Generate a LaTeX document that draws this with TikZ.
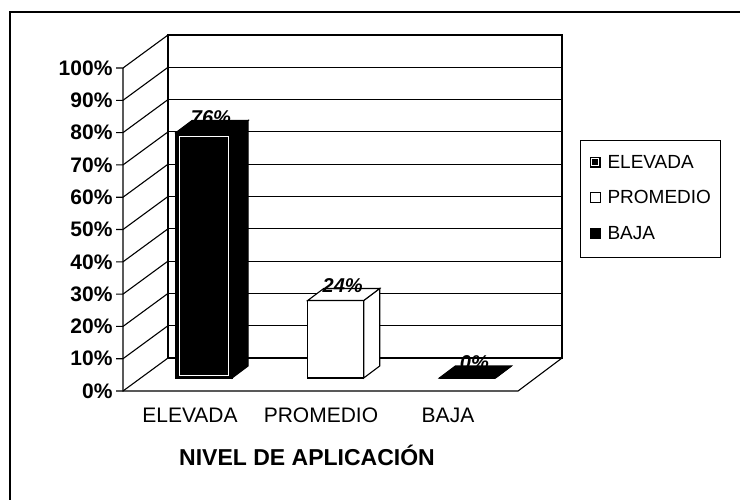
\documentclass[tikz,border=0pt]{standalone}
\usepackage{fontspec}
\setmainfont{Liberation Sans}

% one 3-D column: #1 left x of front face, #2 height, #3 fill, #4 label, #5 name
\newcommand{\column}[5]{%
  \fill[#3] (#1,378) rectangle ({#1+56},{378-#2});
  \draw (#1,378) rectangle ({#1+56},{378-#2});
  \filldraw[fill=#3] ({#1+56},378) -- ({#1+72},366) -- ({#1+72},{366-#2}) -- ({#1+56},{378-#2}) -- cycle;
  \filldraw[fill=#3] (#1,{378-#2}) -- ({#1+16},{366-#2}) -- ({#1+72},{366-#2}) -- ({#1+56},{378-#2}) -- cycle;
  \node[val] (#5) at ({#1+35},{363-#2}) {#4};
}

\begin{document}
\begin{tikzpicture}[x=1pt,y=-1pt,line width=1.1pt,
    tick/.style={font=\fontsize{21}{21}\selectfont\bfseries,anchor=east,inner sep=0pt},
    cat/.style={font=\fontsize{21}{21}\selectfont},
    val/.style={font=\fontsize{20}{20}\selectfont\bfseries\itshape,inner sep=0pt},
    leg/.style={font=\fontsize{19}{19}\selectfont,anchor=west,inner sep=0pt},
    swatch/.style={draw,line width=0.9pt,minimum size=10pt,inner sep=0pt}]
  \clip (0,0) rectangle (740,499);
  \draw[line width=1.6pt] (10,12) rectangle (760,520);

  \draw (168,35) rectangle (562,358);
  \foreach \i in {1,...,9}
    \draw (168,{358-32.3*\i}) -- (562,{358-32.3*\i});
  \foreach \i in {0,...,10}
    \draw (116,{391-32.3*\i}) -- (123,{391-32.3*\i}) -- (168,{358-32.3*\i});
  \draw (123,68) -- (123,391) -- (518,391) -- (562,358);

  \foreach \i [evaluate=\i as \p using int(10*\i)] in {0,...,10}
    \node[tick] (tick\i) at (113,{391-32.3*\i}) {\p\%};

  \column{176}{245.5}{black}{76\%}{valelev}
  \draw[white,line width=0.6pt] (179.5,375) rectangle (228.5,{381.5-245.5});
  \column{307.7}{77.5}{white}{24\%}{valprom}
  \column{439.4}{0}{black}{0\%}{valbaja}

  \path
  (190,415) node[cat] (celev) {ELEVADA}
  (321,415) node[cat] (cprom) {PROMEDIO}
  (448,415) node[cat] (cbaja) {BAJA}
  (307,455) node[cat,font=\fontsize{23}{23}\selectfont\bfseries] (title) {NIVEL DE APLICACIÓN}
  ;

  \draw[line width=0.9pt] (580,140) rectangle (720,257);
  \path
  (595,162) node[swatch,fill=black] (kelev) {}
  (595,197) node[swatch,fill=white] (kprom) {}
  (595,233) node[swatch,fill=black] (kbaja) {}
  ;
  \draw[white,line width=0.6pt] ([shift={(2pt,2pt)}]kelev.south west) rectangle ([shift={(-2pt,-2pt)}]kelev.north east);
  \node[leg] (lelev) at (607,162) {ELEVADA};
  \node[leg] (lprom) at (607,197) {PROMEDIO};
  \node[leg] (lbaja) at (607,233) {BAJA};
\end{tikzpicture}
\end{document}
